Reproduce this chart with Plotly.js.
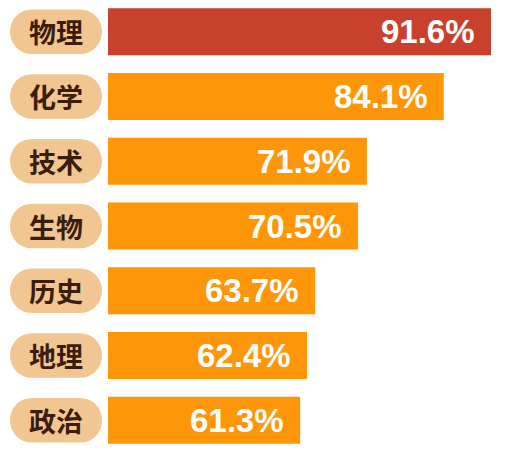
<!DOCTYPE html>
<html>
<head>
<meta charset="utf-8">
<script src="https://cdn.plot.ly/plotly-3.0.1.min.js"></script>
<style>
  html, body { margin: 0; padding: 0; background: #ffffff; }
  #chart { width: 508px; height: 452px; }
</style>
</head>
<body>
<div id="chart"></div>
<script>
// subjects, top to bottom
const subjects = ['物理', '化学', '技术', '生物', '历史', '地理', '政治'];
// share of students choosing each subject (%)
const shares = [91.6, 84.1, 71.9, 70.5, 63.7, 62.4, 61.3];
const shareLabels = ['91.6%', '84.1%', '71.9%', '70.5%', '63.7%', '62.4%', '61.3%'];

const RED = '#c9402d';
const ORANGE = '#fd9608';
const PILL = '#f2c690';
const INK = '#3a1d0c';

// pills behind the subject names: two half bars on their own axis,
// cornerradius only rounds the far end so one goes left and one goes right
function pillHalf(dir) {
  return {
    type: 'bar',
    orientation: 'h',
    y: subjects,
    x: subjects.map(() => dir * 0.5),
    xaxis: 'x2',
    yaxis: 'y',
    width: 0.69,
    marker: { color: PILL, cornerradius: '50%', line: { width: 0 } },
    hoverinfo: 'skip'
  };
}

const bars = {
  type: 'bar',
  orientation: 'h',
  y: subjects,
  x: shares,
  xaxis: 'x',
  yaxis: 'y',
  width: 0.725,
  marker: { color: shares.map((v, i) => i === 0 ? RED : ORANGE), line: { width: 0 } },
  hoverinfo: 'x+y'
};

const nameLabels = subjects.map(s => ({
  x: 0,
  y: s,
  xref: 'x2',
  yref: 'y',
  text: s,
  showarrow: false,
  xanchor: 'center',
  yanchor: 'middle',
  font: { family: 'Noto Sans CJK SC', size: 27, color: INK, weight: 'bold' }
}));

// value labels sit just inside the right end of each bar
const valueLabels = shares.map((v, i) => ({
  x: v,
  y: subjects[i],
  xref: 'x',
  yref: 'y',
  text: shareLabels[i],
  showarrow: false,
  xanchor: 'right',
  yanchor: 'middle',
  xshift: -14,
  font: { family: 'Liberation Sans, Arial, sans-serif', size: 33, color: '#ffffff', weight: 'bold' }
}));

const hidden = { showgrid: false, zeroline: false, showticklabels: false, showline: false, ticks: '' };

const layout = {
  width: 508,
  height: 452,
  margin: { l: 0, r: 0, t: 0, b: 0 },
  paper_bgcolor: '#ffffff',
  plot_bgcolor: '#ffffff',
  showlegend: false,
  barmode: 'relative',
  xaxis: Object.assign({ domain: [108 / 508, 1], range: [30.8, 94.3], anchor: 'y' }, hidden),
  xaxis2: Object.assign({ domain: [10 / 508, 102 / 508], range: [-0.5, 0.5], anchor: 'y' }, hidden),
  yaxis: Object.assign({ range: [6.49, -0.49], type: 'category' }, hidden),
  annotations: nameLabels.concat(valueLabels)
};

Plotly.newPlot('chart', [pillHalf(-1), pillHalf(1), bars], layout, { displayModeBar: false, staticPlot: true });
</script>
</body>
</html>
